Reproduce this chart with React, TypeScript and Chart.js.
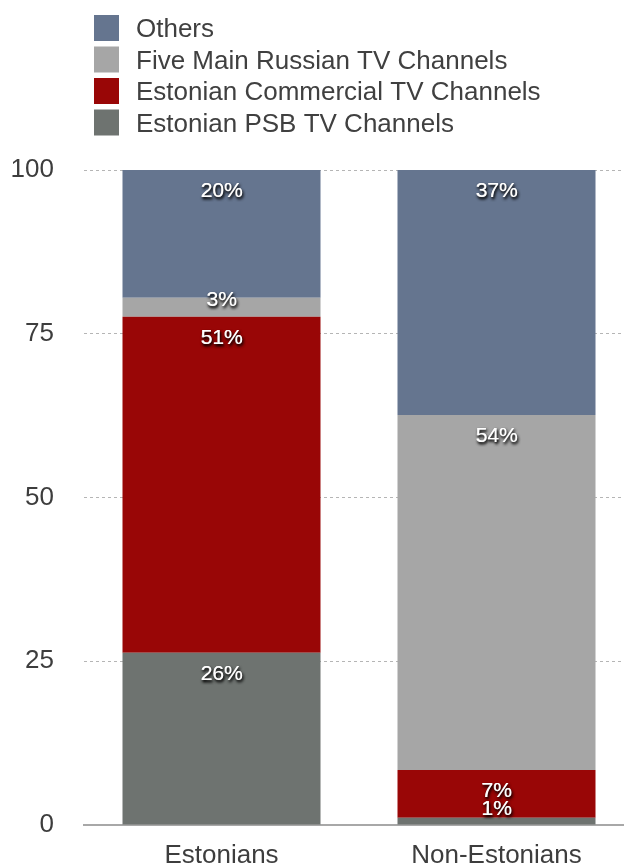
import React, { useEffect, useRef } from "react";
import { Chart, registerables } from "chart.js";

Chart.register(...registerables);

const categories = ["Estonians", "Non-Estonians"];
const seriesNames = [
  "Estonian PSB TV Channels",
  "Estonian Commercial TV Channels",
  "Five Main Russian TV Channels",
  "Others",
];
const psbValues = [26.3, 1.1];
const commercialValues = [51.3, 7.3];
const russianValues = [2.9, 54.2];
const othersValues = [19.5, 37.4];
const seriesColors = ["#6e7370", "#990606", "#a6a6a6", "#65758f"];
const yTicks = [0, 25, 50, 75, 100];

const FONT = "'Liberation Sans', Arial, Helvetica, sans-serif";

const legendPlugin = {
  id: "customLegend",
  afterDraw(chart: any) {
    const ctx = chart.ctx;
    const ds = chart.data.datasets;
    ctx.save();
    ctx.font = `26px ${FONT}`;
    ctx.textBaseline = "middle";
    ctx.textAlign = "left";
    let k = 0;
    for (let i = ds.length - 1; i >= 0; i--) {
      const y = 15 + k * 31.5;
      ctx.fillStyle = ds[i].backgroundColor;
      ctx.fillRect(94, y, 25, 26);
      ctx.fillStyle = "#404040";
      ctx.fillText(ds[i].label, 136, y + 15);
      k++;
    }
    ctx.restore();
  },
};

const labelPlugin = {
  id: "segLabels",
  afterDatasetsDraw(chart: any) {
    const ctx = chart.ctx;
    ctx.save();
    ctx.font = `21px ${FONT}`;
    ctx.textAlign = "center";
    ctx.textBaseline = "middle";
    ctx.fillStyle = "#ffffff";
    ctx.shadowColor = "rgba(0,0,0,0.85)";
    ctx.shadowOffsetX = 1;
    ctx.shadowOffsetY = 2;
    ctx.shadowBlur = 3;
    chart.data.datasets.forEach((d: any, di: number) => {
      const meta = chart.getDatasetMeta(di);
      meta.data.forEach((bar: any, j: number) => {
        const top = Math.min(bar.y, bar.base);
        const h = Math.abs(bar.base - bar.y);
        let off;
        if (h >= 40) off = 21;
        else if (h >= 15) off = h / 2 - 7;
        else off = -9;
        const t = Math.round(d.data[j]) + "%";
        ctx.fillText(t, bar.x, top + off);
        ctx.fillText(t, bar.x + 0.4, top + off);
      });
    });
    ctx.restore();
  },
};

export default function App() {
  const ref = useRef<HTMLCanvasElement>(null);
  useEffect(() => {
    if (!ref.current) return;
    const values = [psbValues, commercialValues, russianValues, othersValues];
    const chart = new Chart(ref.current, {
      type: "bar",
      data: {
        labels: categories,
        datasets: seriesNames.map((n, i) => ({
          label: n,
          data: values[i],
          backgroundColor: seriesColors[i],
          borderWidth: 0,
          barPercentage: 0.72,
          categoryPercentage: 1,
        })),
      },
      options: {
        responsive: false,
        animation: false,
        layout: { padding: { top: 170, right: 6, left: 2, bottom: 0 } },
        plugins: { legend: { display: false }, tooltip: { enabled: false } },
        scales: {
          x: {
            stacked: true,
            grid: { display: false, drawTicks: false },
            border: { display: true, color: "#a8a8a8", width: 2 },
            ticks: {
              color: "#3d3d3d",
              font: { family: FONT, size: 26 },
              padding: 15,
              maxRotation: 0,
            },
            afterFit(scale: any) {
              scale.height = 39;
            },
          },
          y: {
            stacked: true,
            min: 0,
            max: 100,
            afterBuildTicks(scale: any) {
              scale.ticks = yTicks.map((v) => ({ value: v }));
            },
            grid: {
              drawTicks: false,
              color: (c: any) => (c.tick && c.tick.value === 0 ? "rgba(0,0,0,0)" : "#b5b5b5"),
              lineWidth: 1,
            },
            border: { display: false, dash: [3, 3] },
            ticks: {
              color: "#3d3d3d",
              font: { family: FONT, size: 26 },
              padding: 30,
            },
            afterFit(scale: any) {
              scale.width = 82;
              scale.paddingTop = 16;
              scale.paddingBottom = 16;
            },
          },
        },
      },
      plugins: [legendPlugin, labelPlugin],
    } as any);
    return () => chart.destroy();
  }, []);
  return (
    <div
      style={{
        position: "fixed",
        left: 0,
        top: 0,
        width: 624,
        height: 864,
        overflow: "hidden",
        background: "#ffffff",
      }}
    >
      <canvas ref={ref} width={640} height={864} style={{ display: "block" }} />
    </div>
  );
}
